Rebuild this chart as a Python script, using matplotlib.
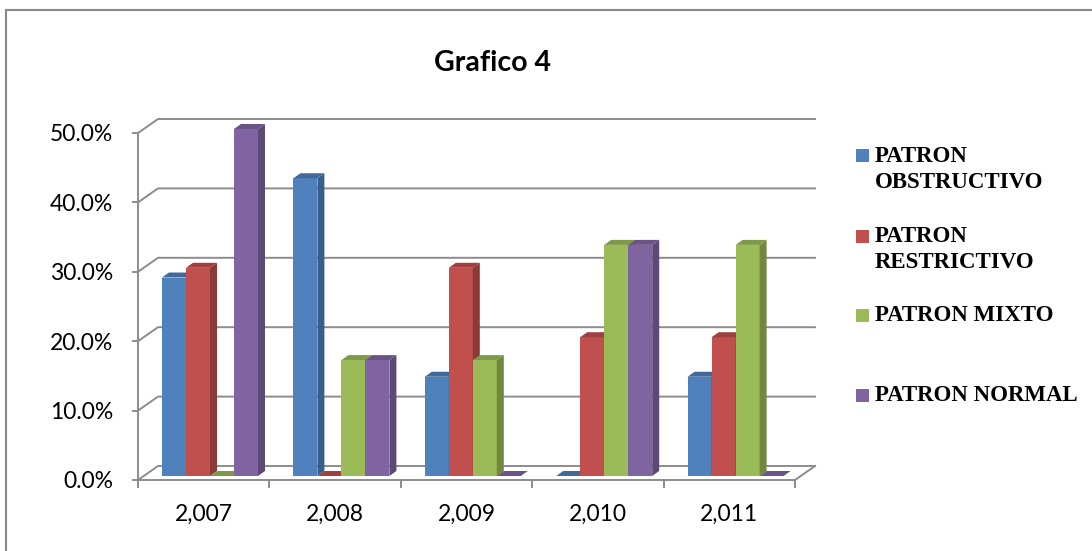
"""Grafico 4: patrones espirometricos por anio (Excel-style 3D clustered columns)."""
import matplotlib
matplotlib.use("Agg")
import matplotlib.pyplot as plt
from matplotlib.patches import Polygon, Rectangle
from matplotlib.lines import Line2D
from matplotlib.ticker import FuncFormatter

# ------------------------------------------------------------------ data
YEARS = ["2,007", "2,008", "2,009", "2,010", "2,011"]
SERIES = ["PATRON\nOBSTRUCTIVO", "PATRON\nRESTRICTIVO", "PATRON MIXTO", "PATRON NORMAL"]
OBSTRUCTIVO = [0.286, 0.429, 0.143, 0.0, 0.143]
RESTRICTIVO = [0.30, 0.0, 0.30, 0.20, 0.20]
MIXTO = [0.0, 0.167, 0.167, 0.333, 0.333]
NORMAL = [0.50, 0.167, 0.0, 0.333, 0.0]
Y_TICKS = [0.0, 0.1, 0.2, 0.3, 0.4, 0.5]

# (front, side, top) shades per series
COLORS = [
    ("#4F81BD", "#385E8B", "#41699A"),
    ("#C0504D", "#8C3A38", "#A0403E"),
    ("#9BBB59", "#71893F", "#7E9A47"),
    ("#8064A2", "#5D4977", "#6A5386"),
]
GRID = "#8c8c8c"

# ------------------------------------------------------------------ geometry (px -> data)
W_PX, H_PX = 1092, 551
X0, Y0 = 138, 480            # front-axis origin in pixels
PX_X, PX_Y = 131.4, 694.0    # pixels per category / per 100 %
DX, DY = 20 / PX_X, 14 / PX_Y          # wall depth offset
BW, BOFF = 24 / PX_X, 24 / PX_X        # bar width, first-bar offset
BY = 4 / PX_Y                          # bar base lift
SDX, SDY = 7 / PX_X, 5 / PX_Y          # bar depth offset

XMAX, YMAX = 5.25, 0.55

fig = plt.figure(figsize=(W_PX / 100, H_PX / 100), dpi=100)
ax = fig.add_axes([X0 / W_PX, (H_PX - Y0) / H_PX,
                   XMAX * PX_X / W_PX, YMAX * PX_Y / H_PX])
ax.set_xlim(0, XMAX)
ax.set_ylim(0, YMAX)
ax.patch.set_alpha(0)

# back wall gridlines with their diagonal return to the front axis
n = len(YEARS)
for y in Y_TICKS:
    ax.plot([0, DX, n + DX], [y, y + DY, y + DY], color=GRID, lw=1.4,
            zorder=1, clip_on=False, solid_joinstyle="miter")
ax.plot([n, n + DX], [0, DY], color=GRID, lw=1.4, zorder=1, clip_on=False)

# bars: front, right side, top
values = [OBSTRUCTIVO, RESTRICTIVO, MIXTO, NORMAL]
for i in range(n):
    for j, vals in enumerate(values):
        v = vals[i]
        front, side, top = COLORS[j]
        x = i + BOFF + j * BW
        ax.bar(x, v, width=BW, bottom=BY, align="edge", color=front,
               linewidth=0, zorder=3 + i * 4 + j)
        ax.add_patch(Polygon([(x + BW, BY), (x + BW + SDX, BY + SDY),
                              (x + BW + SDX, BY + v + SDY), (x + BW, BY + v)],
                             closed=True, facecolor=side, lw=0,
                             zorder=3 + i * 4 + j, clip_on=False))
        ax.add_patch(Polygon([(x, BY + v), (x + SDX, BY + v + SDY),
                              (x + BW + SDX, BY + v + SDY), (x + BW, BY + v)],
                             closed=True, facecolor=top, lw=0,
                             zorder=3 + i * 4 + j, clip_on=False))

# axes
for s in ("top", "right"):
    ax.spines[s].set_visible(False)
ax.spines["left"].set_bounds(0, Y_TICKS[-1])
ax.spines["bottom"].set_bounds(0, n)
for s in ("left", "bottom"):
    ax.spines[s].set_color(GRID)
    ax.spines[s].set_linewidth(1.4)
    ax.spines[s].set_zorder(2)

ax.set_yticks(Y_TICKS)
ax.yaxis.set_major_formatter(FuncFormatter(lambda v, _: f"{v * 100:.1f}%"))
ax.tick_params(axis="y", length=4.5, width=1.4, color=GRID, pad=13.5,
               labelsize=16.5, labelcolor="black")

ax.set_xticks(range(n + 1))
ax.set_xticklabels([])
ax.set_xticks([i + 0.5 for i in range(n)], minor=True)
ax.set_xticklabels(YEARS, minor=True)
ax.tick_params(axis="x", which="major", length=5.5, width=1.4, color=GRID)
ax.tick_params(axis="x", which="minor", length=0, pad=17, labelsize=16.5)
for lab in ax.get_xticklabels(minor=True) + ax.get_yticklabels():
    lab.set_fontfamily("Lato")

# title
fig.text(492 / W_PX, 1 - 63 / H_PX, "Grafico 4", ha="center", va="center",
         fontsize=20.5, fontweight="bold", family="Lato")

# legend
LEG_Y = [156, 236, 315, 395]
for j, lab in enumerate(SERIES):
    yc = LEG_Y[j]
    fig.patches.append(Rectangle((856 / W_PX, 1 - (yc + 6.5) / H_PX), 13 / W_PX, 13 / H_PX,
                                 transform=fig.transFigure, facecolor=COLORS[j][0],
                                 lw=0))
    fig.text(875 / W_PX, 1 - (yc - 10) / H_PX, lab, ha="left", va="top",
             fontsize=16.5, fontweight="bold", family="Liberation Serif",
             linespacing=1.3)

# chart-area border (left & top visible)
fig.add_artist(Line2D([6 / W_PX, 6 / W_PX], [0, 1 - 10 / H_PX], transform=fig.transFigure,
                      color="#8a8a8a", lw=1.5))
fig.add_artist(Line2D([6 / W_PX, 1], [1 - 10 / H_PX, 1 - 10 / H_PX],
                      transform=fig.transFigure, color="#8a8a8a", lw=1.5))

fig.savefig("out.png", dpi=100)
